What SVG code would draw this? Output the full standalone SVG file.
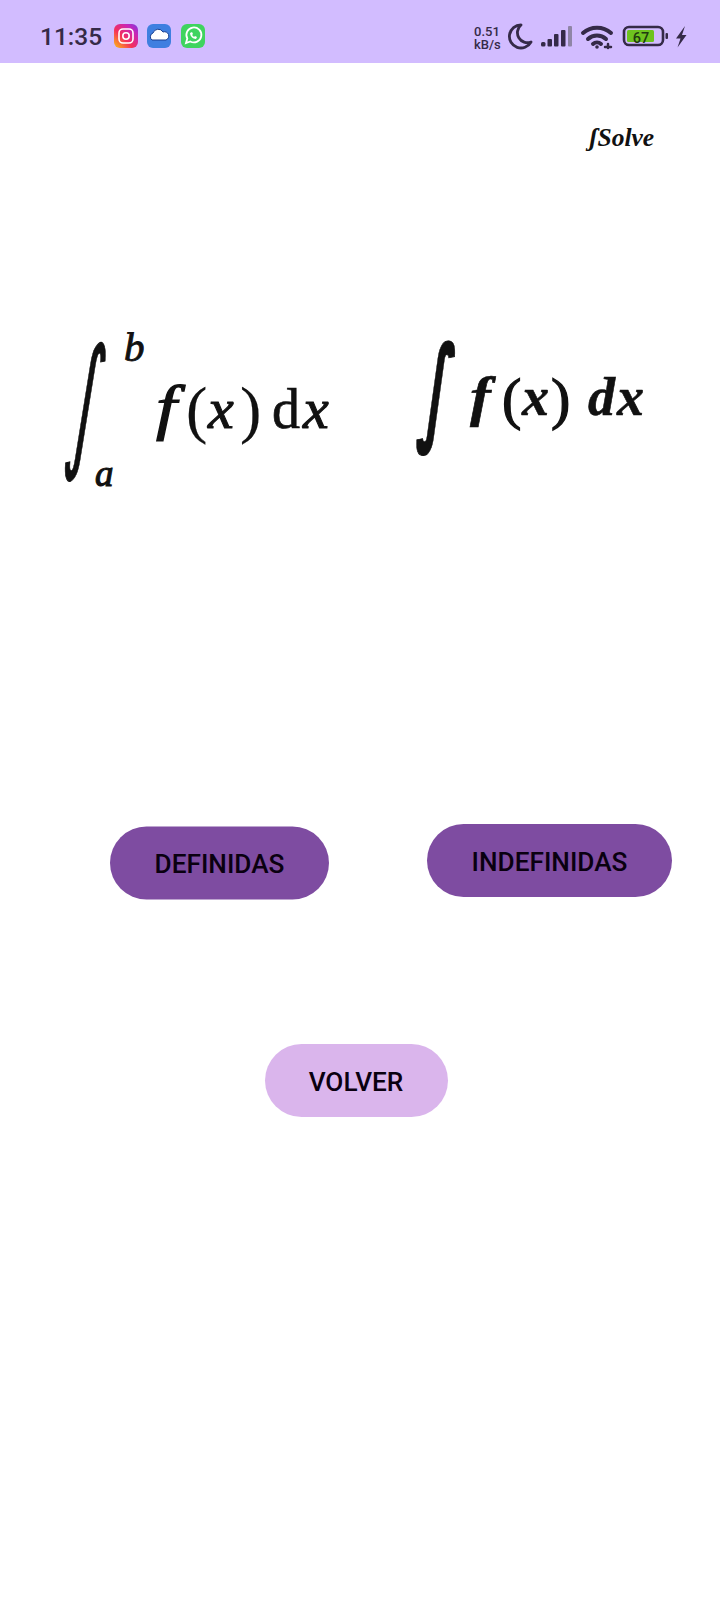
<svg xmlns="http://www.w3.org/2000/svg" width="720" height="1600" viewBox="0 0 720 1600">
<style>
.ui{font-family:Roboto,"Liberation Sans",sans-serif;fill:#352a48}
.btn{font-family:Roboto,"Liberation Sans",sans-serif;font-weight:500;font-size:26.200px;fill:#0a0010;text-anchor:middle}
.m{font-family:"Liberation Serif","DejaVu Serif",serif;fill:#111;stroke:#111;stroke-width:1.100}
.i{font-style:italic}
.sig{fill:#352a48}
.int{font-family:"DejaVu Sans",sans-serif;stroke-width:.5}
</style>
<defs>
<linearGradient id="ig" x1="0" y1="1" x2="1" y2="0"><stop offset="0" stop-color="#fdc010"/><stop offset=".4" stop-color="#f5305a"/><stop offset=".75" stop-color="#c826b8"/><stop offset="1" stop-color="#7a3be0"/></linearGradient>
</defs>
<rect width="720" height="1600" fill="#fff"/>
<g id="status-bar">
<rect width="720" height="63" fill="#d2bcff"/>
<text class="ui" x="40" y="45" font-size="24.500" font-weight="500">11:35</text>
<g id="icon-instagram"><rect x="114" y="24" width="24" height="24" rx="6" fill="url(#ig)"/><rect x="119" y="29" width="14" height="14" rx="4" fill="none" stroke="#fff" stroke-width="1.600"/><circle cx="126" cy="36" r="3.200" fill="none" stroke="#fff" stroke-width="1.600"/></g>
<g id="icon-cloud"><rect x="147" y="24" width="24" height="24" rx="6" fill="#3f7fe0"/><path d="M152 40a4 4 0 0 1 1-7 5.500 5.500 0 0 1 10-1 4 4 0 0 1 3 8z" fill="#fff" stroke="#1a3f90" stroke-width="1"/></g>
<g id="icon-whatsapp"><rect x="181" y="24" width="24" height="24" rx="6" fill="#3fd45f"/><path d="M186 43l1.300-4.500a7.500 7.500 0 1 1 3 3z" fill="none" stroke="#fff" stroke-width="1.800"/><path d="M190 33c0 3 3 6 6 6l1-2-2-1-1 1-2-2 1-1-1-2z" fill="#fff"/></g>
<text class="ui" font-weight="500" x="474" y="36" font-size="13">0.51</text>
<text class="ui" font-weight="500" x="474" y="48.500" font-size="13">kB/s</text>
<path d="M521 25a11.500 11.500 0 1 0 10 17a10 10 0 0 1-10-17z" fill="none" stroke="#352a48" stroke-width="2.800" stroke-linejoin="round"/>
<g id="signal"><rect class="sig" x="541" y="42" width="4.500" height="4.500" rx="1.500"/><rect class="sig" x="547.500" y="39" width="4.500" height="7.500" rx="1"/><rect class="sig" x="554" y="34" width="4.500" height="12.500" rx="1"/><rect class="sig" x="561" y="30" width="4.500" height="16.500" rx="1"/><rect x="568" y="26" width="4" height="20.500" rx="1" fill="#8f85a6"/></g>
<g id="wifi" fill="none" stroke="#352a48" stroke-width="4" stroke-linecap="round"><path d="M583 33a21 21 0 0 1 28 0"/><path d="M588 39a13 13 0 0 1 18 0"/><path d="M593 44a6 6 0 0 1 8 0"/><circle cx="597" cy="47" r="1.800" fill="#352a48" stroke="none"/><path d="M605 47h6M608 44v4" stroke-width="2.500"/></g>
<g id="battery"><rect x="624" y="27" width="39" height="18" rx="5" fill="none" stroke="#352a48" stroke-width="2.600"/><rect x="627" y="30" width="27" height="12" rx="1.500" fill="#6ec31f"/><rect x="665.500" y="33" width="2.500" height="6" rx="1" fill="#352a48"/><text x="641" y="42.500" font-family="Roboto,sans-serif" font-weight="500" font-size="14.500" fill="#213a10" text-anchor="middle">67</text></g>
<path d="M685 26l-9 12.500h4.500l-3 9 9-12.500h-4.500z" fill="#352a48"/>
</g>
<text id="title" x="589" y="146" font-family="'Liberation Serif',serif" font-style="italic" font-weight="700" font-size="25.500" fill="#111">ʃSolve</text>
<g id="formula-definite" class="m">
<text class="int" transform="translate(63.500 451) skewX(-8) scale(.92 2.11)" font-size="68">∫</text>
<text class="i" x="124" y="361" font-size="41" stroke-width=".9">b</text>
<text class="i" x="95" y="486" font-size="37">a</text>
<text class="i" transform="translate(156 428) scale(1.35 1.1)" font-size="55">f</text>
<text x="186" y="431" font-size="64" stroke-width=".2">(</text>
<text class="i" x="208" y="428" font-size="58">x</text>
<text x="240" y="431" font-size="64" stroke-width=".2">)</text>
<text x="272" y="428" font-size="56" stroke-width=".7">d</text>
<text class="i" x="303" y="428" font-size="58">x</text>
</g>
<g id="formula-indefinite" class="m" font-weight="700">
<text class="int" transform="translate(417 429) skewX(-6) scale(.81 1.72)" font-size="68" font-weight="700">∫</text>
<text class="i" transform="translate(470 415) scale(1.15 1)" font-size="54" stroke-width=".6">f</text>
<text x="502" y="418" font-size="58" font-weight="400" stroke-width="1.300">(</text>
<text class="i" x="522" y="415" font-size="54" stroke-width=".6">x</text>
<text x="551" y="418" font-size="58" font-weight="400" stroke-width="1.300">)</text>
<text class="i" x="588" y="415" font-size="54" stroke-width=".6">d</text>
<text class="i" x="617" y="415" font-size="54" stroke-width=".6">x</text>
</g>
<g id="btn-definidas"><rect x="110" y="826.500" width="219" height="73" rx="36.500" fill="#7e4ca1"/><text class="btn" x="219.500" y="873">DEFINIDAS</text></g>
<g id="btn-indefinidas"><rect x="427" y="824" width="245" height="73" rx="36.500" fill="#7e4ca1"/><text class="btn" x="549.500" y="870.500">INDEFINIDAS</text></g>
<g id="btn-volver"><rect x="265" y="1044" width="183" height="73" rx="36.500" fill="#dab5ec"/><text class="btn" x="356" y="1090.500">VOLVER</text></g>
</svg>
